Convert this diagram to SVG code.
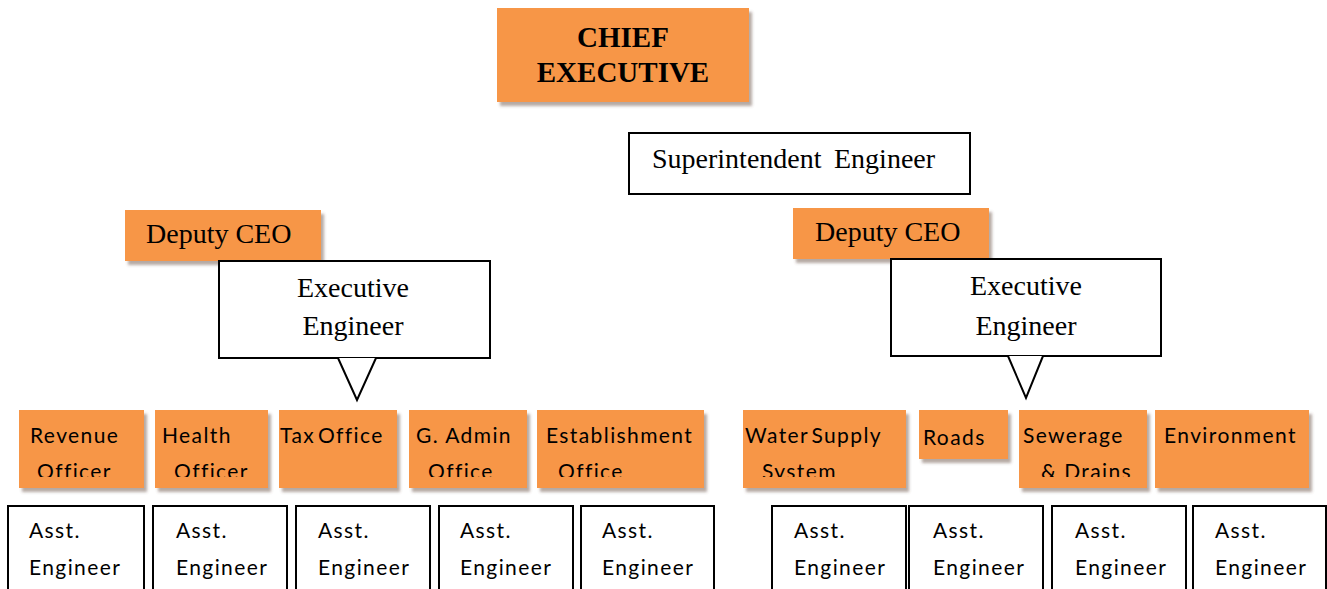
<svg xmlns="http://www.w3.org/2000/svg" width="1327" height="589" viewBox="0 0 1327 589">
  <style>
    .org { fill: #F79646; filter: url(#shadow); }
    .box { fill: #FFFFFF; stroke: #000000; stroke-width: 2; }
    .tail { fill: #FFFFFF; stroke: #000000; stroke-width: 2; stroke-linejoin: miter; }
    .serif { font-family: "Liberation Serif", "Times New Roman", serif; fill: #000000; }
    .head { font-size: 29px; font-weight: bold; text-anchor: middle; }
    .title { font-size: 28px; }
    .mid { text-anchor: middle; }
    .sans { font-family: Lato, "Open Sans", "Liberation Sans", sans-serif; font-size: 21px; letter-spacing: 1.4px; fill: #000000; }
    .cut { clip-path: url(#lineCut); }
  </style>
  <defs>
    <filter id="shadow" x="-10%" y="-10%" width="125%" height="130%">
      <feDropShadow dx="3" dy="4" stdDeviation="1.8" flood-color="#5a4030" flood-opacity="0.45"/>
    </filter>
    <!-- second lines of the office labels are cut off just above the baseline -->
    <clipPath id="lineCut" clipPathUnits="userSpaceOnUse">
      <rect x="0" y="0" width="1327" height="477"/>
    </clipPath>
  </defs>

  <rect width="1327" height="589" fill="#FFFFFF"/>

  <!-- top level -->
  <g id="chief-executive">
    <rect class="org" x="497" y="8" width="252" height="94"/>
    <text class="serif head" x="623" y="47">CHIEF</text>
    <text class="serif head" x="623" y="82">EXECUTIVE</text>
  </g>

  <g id="superintendent-engineer">
    <rect class="box" x="629" y="133" width="341" height="61"/>
    <text class="serif title" y="168"><tspan x="652">Superintendent</tspan><tspan x="834">Engineer</tspan></text>
  </g>

  <!-- left branch -->
  <g id="deputy-ceo-left">
    <rect class="org" x="125" y="210" width="196" height="51"/>
    <text class="serif title" x="146" y="243">Deputy CEO</text>
  </g>

  <g id="exec-engineer-left">
    <rect class="box" x="219" y="261" width="271" height="97"/>
    <text class="serif title mid" x="353" y="297">Executive</text>
    <text class="serif title mid" x="353" y="335">Engineer</text>
  </g>

  <!-- right branch -->
  <g id="deputy-ceo-right">
    <rect class="org" x="793" y="208" width="196" height="51"/>
    <text class="serif title" x="815" y="241">Deputy CEO</text>
  </g>

  <g id="exec-engineer-right">
    <rect class="box" x="891" y="259" width="270" height="97"/>
    <text class="serif title mid" x="1026" y="295">Executive</text>
    <text class="serif title mid" x="1026" y="335">Engineer</text>
  </g>

  <!-- callout pointers below the executive engineers -->
  <g id="connectors">
    <polyline class="tail" points="338,358 357,400 376,358"/>
    <polyline class="tail" points="1008,356 1026,398 1043,356"/>
  </g>

  <!-- left offices -->
  <g id="revenue-officer">
    <rect class="org" x="19" y="410" width="125" height="78"/>
    <text class="sans" x="30" y="443">Revenue</text>
    <text class="sans cut" x="37" y="479">Officer</text>
  </g>
  <g id="health-officer">
    <rect class="org" x="155" y="410" width="113" height="78"/>
    <text class="sans" x="162" y="443">Health</text>
    <text class="sans cut" x="174" y="479">Officer</text>
  </g>
  <g id="tax-office">
    <rect class="org" x="279" y="410" width="118" height="78"/>
    <text class="sans" x="280" y="443" word-spacing="-4">Tax Office</text>
  </g>
  <g id="g-admin-office">
    <rect class="org" x="409" y="410" width="118" height="78"/>
    <text class="sans" x="416" y="443">G. Admin</text>
    <text class="sans cut" x="428" y="479">Office</text>
  </g>
  <g id="establishment-office">
    <rect class="org" x="537" y="410" width="167" height="78"/>
    <text class="sans" x="546" y="443">Establishment</text>
    <text class="sans cut" x="558" y="479">Office</text>
  </g>

  <!-- right offices -->
  <g id="water-supply">
    <rect class="org" x="743" y="410" width="163" height="78"/>
    <text class="sans" x="745" y="443" word-spacing="-4">Water Supply</text>
    <text class="sans cut" x="762" y="479">System</text>
  </g>
  <g id="roads">
    <rect class="org" x="919" y="410" width="89" height="49"/>
    <text class="sans" x="923" y="445">Roads</text>
  </g>
  <g id="sewerage-drains">
    <rect class="org" x="1019" y="410" width="128" height="78"/>
    <text class="sans" x="1023" y="443">Sewerage</text>
    <text class="sans cut" x="1041" y="479">&amp; Drains</text>
  </g>
  <g id="environment">
    <rect class="org" x="1155" y="410" width="154" height="78"/>
    <text class="sans" x="1164" y="443">Environment</text>
  </g>

  <!-- assistant engineers, left -->
  <g id="asst-engineer-1">
    <rect class="box" x="8" y="506" width="136" height="100"/>
    <text class="sans" x="29" y="538">Asst.</text>
    <text class="sans" x="29" y="575">Engineer</text>
  </g>
  <g id="asst-engineer-2">
    <rect class="box" x="153" y="506" width="134" height="100"/>
    <text class="sans" x="176" y="538">Asst.</text>
    <text class="sans" x="176" y="575">Engineer</text>
  </g>
  <g id="asst-engineer-3">
    <rect class="box" x="296" y="506" width="134" height="100"/>
    <text class="sans" x="318" y="538">Asst.</text>
    <text class="sans" x="318" y="575">Engineer</text>
  </g>
  <g id="asst-engineer-4">
    <rect class="box" x="439" y="506" width="134" height="100"/>
    <text class="sans" x="460" y="538">Asst.</text>
    <text class="sans" x="460" y="575">Engineer</text>
  </g>
  <g id="asst-engineer-5">
    <rect class="box" x="581" y="506" width="133" height="100"/>
    <text class="sans" x="602" y="538">Asst.</text>
    <text class="sans" x="602" y="575">Engineer</text>
  </g>

  <!-- assistant engineers, right -->
  <g id="asst-engineer-6">
    <rect class="box" x="772" y="506" width="134" height="100"/>
    <text class="sans" x="794" y="538">Asst.</text>
    <text class="sans" x="794" y="575">Engineer</text>
  </g>
  <g id="asst-engineer-7">
    <rect class="box" x="909" y="506" width="134" height="100"/>
    <text class="sans" x="933" y="538">Asst.</text>
    <text class="sans" x="933" y="575">Engineer</text>
  </g>
  <g id="asst-engineer-8">
    <rect class="box" x="1052" y="506" width="134" height="100"/>
    <text class="sans" x="1075" y="538">Asst.</text>
    <text class="sans" x="1075" y="575">Engineer</text>
  </g>
  <g id="asst-engineer-9">
    <rect class="box" x="1193" y="506" width="133" height="100"/>
    <text class="sans" x="1215" y="538">Asst.</text>
    <text class="sans" x="1215" y="575">Engineer</text>
  </g>
</svg>
